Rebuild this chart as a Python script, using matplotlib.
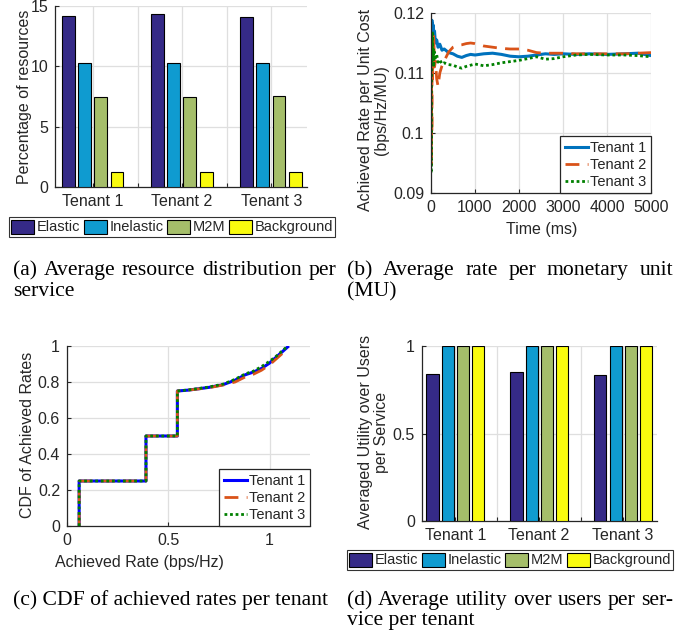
import matplotlib
matplotlib.use("Agg")
import matplotlib.pyplot as plt
from matplotlib.patches import Patch
from matplotlib.lines import Line2D
import numpy as np

# ---------------- data ----------------
tenants = ["Tenant 1", "Tenant 2", "Tenant 3"]
services = ["Elastic", "Inelastic", "M2M", "Background"]
service_colors = ["#352A87", "#0F9BD0", "#A5BE6A", "#F9FB0E"]

# (a) percentage of resources per service, per tenant
res_elastic = [14.2, 14.3, 14.05]
res_inelastic = [10.3, 10.3, 10.3]
res_m2m = [7.47, 7.5, 7.53]
res_background = [1.28, 1.28, 1.28]

# (d) average utility per service, per tenant
util_elastic = [0.842, 0.850, 0.836]
util_inelastic = [1.0, 1.0, 1.0]
util_m2m = [1.0, 1.0, 1.0]
util_background = [1.0, 1.0, 1.0]

# (b) achieved rate per unit cost over time
time_ms = [0, 3, 6, 10, 15, 20, 25, 30, 40, 50, 60, 80, 100, 130, 160, 200, 250, 300,
           400, 500, 600, 700, 800, 900, 1000, 1200, 1400, 1600, 1800, 2000, 2200,
           2400, 2600, 2800, 3000, 3300, 3600, 4000, 4400, 4700, 5000]
rate_t1 = [0.1165, 0.1030, 0.1120, 0.1185, 0.1150, 0.1188, 0.1165, 0.1182, 0.1168, 0.1180,
           0.1160, 0.1170, 0.1150, 0.1155, 0.1143, 0.1148, 0.1138, 0.1140,
           0.1134, 0.1132, 0.1128, 0.1126, 0.1129, 0.1131, 0.1130, 0.1132, 0.1133, 0.1131,
           0.1128, 0.1127, 0.1128, 0.1130, 0.1132, 0.1131, 0.1132, 0.1131, 0.1132, 0.1131,
           0.1132, 0.1133, 0.1129]
rate_t2 = [0.1100, 0.0947, 0.1050, 0.0960, 0.1120, 0.1000, 0.1140, 0.1090, 0.1150, 0.1120,
           0.1167, 0.1110, 0.1120, 0.1090, 0.1078, 0.1100, 0.1112, 0.1120,
           0.1135, 0.1143, 0.1146, 0.1147, 0.1149, 0.1150, 0.1149, 0.1145, 0.1143, 0.1141,
           0.1140, 0.1140, 0.1138, 0.1134, 0.1133, 0.1133, 0.1133, 0.1132, 0.1132, 0.1132,
           0.1132, 0.1133, 0.1134]
rate_t3 = [0.1050, 0.0933, 0.1020, 0.1080, 0.1110, 0.1160, 0.1120, 0.1170, 0.1125, 0.1140,
           0.1110, 0.1135, 0.1125, 0.1130, 0.1118, 0.1122, 0.1115, 0.1117,
           0.1114, 0.1113, 0.1110, 0.1108, 0.1111, 0.1113, 0.1115, 0.1112, 0.1114, 0.1117,
           0.1119, 0.1121, 0.1124, 0.1127, 0.1123, 0.1124, 0.1127, 0.1130, 0.1131, 0.1130,
           0.1130, 0.1129, 0.1127]

# (c) CDF of achieved rates
cdf_x_t1 = [0.06, 0.06, 0.39, 0.39, 0.545, 0.545, 0.60, 0.70, 0.77, 0.83, 0.88, 0.92, 0.96, 1.00, 1.03, 1.06, 1.09]
cdf_y_t1 = [0.0, 0.25, 0.25, 0.50, 0.50, 0.75, 0.755, 0.77, 0.785, 0.81, 0.84, 0.855, 0.875, 0.905, 0.935, 0.965, 0.995]
cdf_x_t2 = [0.06, 0.06, 0.39, 0.39, 0.545, 0.545, 0.60, 0.70, 0.77, 0.83, 0.88, 0.92, 0.96, 1.00, 1.03, 1.06, 1.09]
cdf_y_t2 = [0.0, 0.25, 0.25, 0.50, 0.50, 0.75, 0.755, 0.768, 0.783, 0.80, 0.828, 0.843, 0.865, 0.895, 0.925, 0.955, 0.99]
cdf_x_t3 = [0.06, 0.06, 0.39, 0.39, 0.545, 0.545, 0.60, 0.70, 0.77, 0.83, 0.88, 0.92, 0.96, 1.00, 1.03, 1.06, 1.09]
cdf_y_t3 = [0.0, 0.25, 0.25, 0.50, 0.50, 0.75, 0.756, 0.772, 0.788, 0.815, 0.845, 0.86, 0.885, 0.915, 0.94, 0.97, 1.0]

captions_a = ["(a) Average resource distribution per", "service"]
captions_b = ["(b) Average rate per monetary unit", "(MU)"]
captions_c = ["(c) CDF of achieved rates per tenant"]
captions_d = ["(d) Average utility over users per ser-", "vice per tenant"]

# ---------------- layout helpers ----------------
W, H = 694, 639
fig = plt.figure(figsize=(W / 100, H / 100), dpi=100)
fig.patch.set_facecolor("white")

SANS = "Liberation Sans"
SERIF = "Liberation Serif"
TXT = "#262626"
GRID = "#DFDFDF"
TICK_FS = 11.5


def px_axes(left, top, right, bottom):
    return fig.add_axes([left / W, 1 - bottom / H, (right - left) / W, (bottom - top) / H])


def fx(x):
    return x / W


def fy(y):
    return 1 - y / H


def style_axes(ax):
    for s in ["top", "right"]:
        ax.spines[s].set_visible(False)
    for s in ["left", "bottom"]:
        ax.spines[s].set_color(TXT)
        ax.spines[s].set_linewidth(0.9)
    ax.tick_params(direction="in", length=3, width=0.8, colors=TXT,
                   labelsize=TICK_FS, pad=5)
    for lab in ax.get_xticklabels() + ax.get_yticklabels():
        lab.set_fontfamily(SANS)
    ax.set_axisbelow(True)
    ax.grid(True, color=GRID, linewidth=0.9)


def set_label_px(axis, x, y):
    axis.set_label_coords(fx(x), fy(y), transform=fig.transFigure)


def grouped_bars(ax, series, width, offsets):
    pos = np.arange(1, len(tenants) + 1)
    for vals, off, col in zip(series, offsets, service_colors):
        ax.bar(pos + off, vals, width=width, color=col, edgecolor="black",
               linewidth=0.8, zorder=3)
    ax.set_xticks([1, 1.5, 2, 2.5, 3])
    ax.set_xticklabels([tenants[0], "", tenants[1], "", tenants[2]])


def bar_legend(ax, cx, cy):
    handles = [Patch(facecolor=c, edgecolor="black", linewidth=0.8) for c in service_colors]
    leg = ax.legend(handles, services, ncol=4, loc="center",
                    bbox_to_anchor=(fx(cx), fy(cy)), bbox_transform=fig.transFigure,
                    frameon=True, fancybox=False, edgecolor="black",
                    prop={"family": SANS, "size": 10.5},
                    handlelength=1.6, handleheight=1.1, handletextpad=0.15,
                    columnspacing=0.25, borderpad=0.15, borderaxespad=0)
    leg.get_frame().set_linewidth(0.8)
    for t in leg.get_texts():
        t.set_color(TXT)
    return leg


def line_legend(ax, handles, labels):
    leg = ax.legend(handles, labels, loc="lower right", frameon=True, fancybox=False,
                    edgecolor=TXT, prop={"family": SANS, "size": 10.5},
                    handlelength=1.6, handletextpad=0.15, borderpad=0.3,
                    labelspacing=0.2, borderaxespad=0)
    leg.get_frame().set_linewidth(0.9)
    leg.get_frame().set_alpha(1)
    for t in leg.get_texts():
        t.set_color(TXT)
    return leg


# ---------------- (a) ----------------
ax_a = px_axes(55, 6, 307, 187)
grouped_bars(ax_a, [res_elastic, res_inelastic, res_m2m, res_background],
             0.145, [-0.277, -0.095, 0.086, 0.27])
ax_a.set_xlim(0.575, 3.40)
ax_a.set_ylim(0, 15)
ax_a.set_yticks([0, 5, 10, 15])
style_axes(ax_a)
ax_a.set_ylabel("Percentage of resources", fontfamily=SANS, fontsize=TICK_FS, color=TXT)
set_label_px(ax_a.yaxis, 32, 97)
bar_legend(ax_a, 172, 227)

# ---------------- (b) ----------------
ax_b = px_axes(431, 13, 651, 193)
ax_b.plot(time_ms, rate_t1, color="#0072BD", lw=2.2, ls="-")
ax_b.plot(time_ms, rate_t2, color="#D95319", lw=2.0, ls=(0, (5, 3)))
ax_b.plot(time_ms, rate_t3, color="#008000", lw=2.0, ls=(0, (1, 1)))
ax_b.set_xlim(0, 5000)
ax_b.set_ylim(0.09, 0.12)
ax_b.set_xticks([0, 1000, 2000, 3000, 4000, 5000])
ax_b.set_yticks([0.09, 0.1, 0.11, 0.12])
ax_b.set_yticklabels(["0.09", "0.1", "0.11", "0.12"])
style_axes(ax_b)
ax_b.set_ylabel("Achieved Rate per Unit Cost\n(bps/Hz/MU)", fontfamily=SANS,
                fontsize=TICK_FS, color=TXT, linespacing=1.05)
set_label_px(ax_b.yaxis, 389, 110)
ax_b.set_xlabel("Time (ms)", fontfamily=SANS, fontsize=TICK_FS, color=TXT)
set_label_px(ax_b.xaxis, 542, 222)
line_legend(ax_b,
            [Line2D([], [], color="#0072BD", lw=2.2),
             Line2D([], [], color="#D95319", lw=2.0, ls=(0, (5, 3))),
             Line2D([], [], color="#008000", lw=2.0, ls=(0, (1, 1)))],
            tenants)

# ---------------- (c) ----------------
ax_c = px_axes(67, 346, 310, 526)
ax_c.plot(cdf_x_t1, cdf_y_t1, color="#0000FF", lw=2.2, ls="-")
ax_c.plot(cdf_x_t2, cdf_y_t2, color="#D95319", lw=2.0, ls=(0, (5, 3)))
ax_c.plot(cdf_x_t3, cdf_y_t3, color="#008000", lw=2.0, ls=(0, (1, 1)))
ax_c.set_xlim(0, 1.2)
ax_c.set_ylim(0, 1)
ax_c.set_xticks([0, 0.5, 1])
ax_c.set_xticklabels(["0", "0.5", "1"])
ax_c.set_yticks([0, 0.2, 0.4, 0.6, 0.8, 1])
ax_c.set_yticklabels(["0", "0.2", "0.4", "0.6", "0.8", "1"])
style_axes(ax_c)
ax_c.set_ylabel("CDF of Achieved Rates", fontfamily=SANS, fontsize=TICK_FS, color=TXT)
set_label_px(ax_c.yaxis, 35, 435)
ax_c.set_xlabel("Achieved Rate (bps/Hz)", fontfamily=SANS, fontsize=TICK_FS, color=TXT)
set_label_px(ax_c.xaxis, 139, 555)
line_legend(ax_c,
            [Line2D([], [], color="#0000FF", lw=2.2),
             Line2D([], [], color="#D95319", lw=2.0, ls=(0, (5, 3))),
             Line2D([], [], color="#008000", lw=2.0, ls=(0, (1, 1)))],
            tenants)

# ---------------- (d) ----------------
ax_d = px_axes(422, 346, 657, 521)
grouped_bars(ax_d, [util_elastic, util_inelastic, util_m2m, util_background],
             0.147, [-0.271, -0.086, 0.094, 0.273])
ax_d.set_xlim(0.603, 3.407)
ax_d.set_ylim(0, 1)
ax_d.set_yticks([0, 0.5, 1])
ax_d.set_yticklabels(["0", "0.5", "1"])
style_axes(ax_d)
ax_d.set_ylabel("Averaged Utility over Users\nper Service", fontfamily=SANS,
                fontsize=TICK_FS, color=TXT, linespacing=1.05)
set_label_px(ax_d.yaxis, 389, 432)
bar_legend(ax_d, 510, 560)

# ---------------- captions ----------------
CAP_FS = 15.6
renderer = fig.canvas.get_renderer()


def caption_line(text, x0, y, x1=None):
    if x1 is None:
        fig.text(fx(x0), fy(y), text, fontfamily=SERIF, fontsize=CAP_FS,
                 color="black", va="baseline", ha="left")
        return
    words = text.split(" ")
    objs = [fig.text(0, 0, w, fontfamily=SERIF, fontsize=CAP_FS, color="black",
                     va="baseline", ha="left") for w in words]
    widths = [o.get_window_extent(renderer).width for o in objs]
    gap = (x1 - x0 - sum(widths)) / (len(words) - 1)
    x = x0
    for o, w in zip(objs, widths):
        o.set_position((fx(x), fy(y)))
        x += w + gap


caption_line(captions_a[0], 13, 275, 336)
caption_line(captions_a[1], 13, 296)
caption_line(captions_b[0], 347, 275, 673)
caption_line(captions_b[1], 347, 296)
caption_line(captions_c[0], 13, 605)
caption_line(captions_d[0], 347, 605, 673)
caption_line(captions_d[1], 347, 625)

fig.savefig("out.png", dpi=100, facecolor="white")
